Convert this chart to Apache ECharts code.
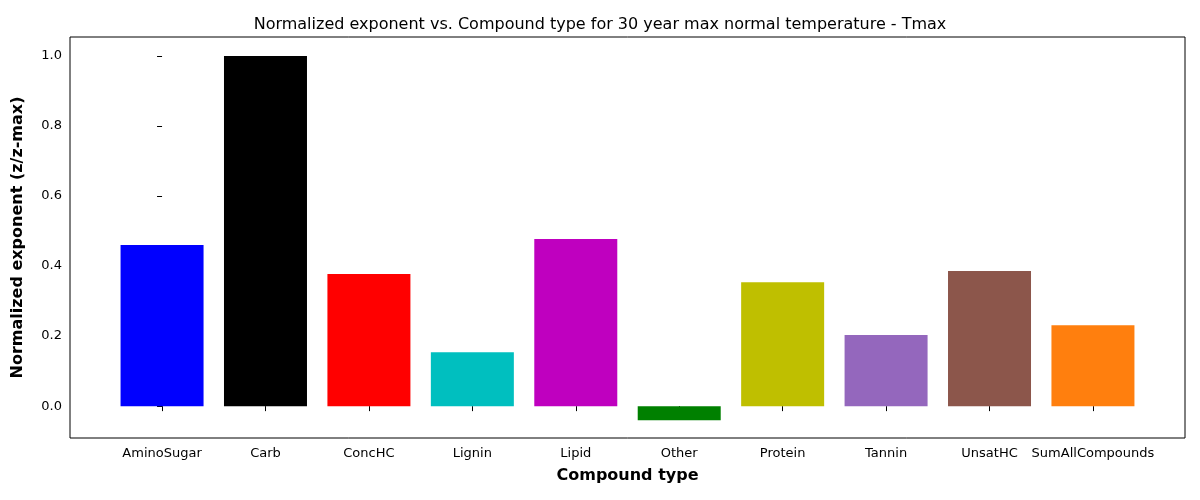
<!DOCTYPE html>
<html>
<head>
<meta charset="utf-8">
<script src="https://cdn.jsdelivr.net/npm/echarts@6/dist/echarts.min.js"></script>
<style>html,body{margin:0;padding:0;background:#fff}#chart{width:1200px;height:500px}</style>
</head>
<body>
<div id="chart"></div>
<script>
// Data
var categories = ['AminoSugar', 'Carb', 'ConcHC', 'Lignin', 'Lipid', 'Other', 'Protein', 'Tannin', 'UnsatHC', 'SumAllCompounds'];
var values = [0.46, 1.0, 0.377, 0.154, 0.477, -0.04, 0.354, 0.203, 0.386, 0.231];
var colors = ['#0000ff', '#000000', '#ff0000', '#00bfbf', '#bf00bf', '#008000', '#bfbf00', '#9467bd', '#8c564b', '#ff7f0e'];

var chart = echarts.init(document.getElementById('chart'));
var font = 'DejaVu Sans, sans-serif';

chart.setOption({
    animation: false,
    textStyle: { fontFamily: font },
    title: {
        text: 'Normalized exponent vs. Compound type for 30 year max normal temperature - Tmax',
        left: 'center', top: 12,
        textStyle: { fontFamily: font, fontSize: 16, fontWeight: 'normal', color: '#000' }
    },
    grid: {
        left: 70, right: 15, top: 37, bottom: 62,
        show: true, borderColor: '#000', borderWidth: 1, backgroundColor: 'transparent'
    },
    xAxis: {
        type: 'value', min: -0.89, max: 9.89, splitNumber: 10,
        name: 'Compound type', nameLocation: 'middle', nameGap: 30,
        nameTextStyle: { fontFamily: font, fontSize: 16, fontWeight: 'bold', color: '#000' },
        axisLine: { show: false },
        axisTick: { show: true, length: 5, lineStyle: { color: '#000' } },
        splitLine: { show: false },
        axisLabel: {
            showMinLabel: false, showMaxLabel: false, color: '#000', fontSize: 13, margin: 9,
            formatter: function (v) { return categories[Math.round(v)] || ''; }
        }
    },
    yAxis: {
        type: 'value', min: -0.091, max: 1.054,
        name: 'Normalized exponent (z/z-max)', nameLocation: 'middle', nameGap: 44,
        nameTextStyle: { fontFamily: font, fontSize: 16, fontWeight: 'bold', color: '#000' },
        axisLine: { show: false },
        axisTick: { show: true, length: 5, lineStyle: { color: '#000' } },
        splitLine: { show: false },
        axisLabel: {
            showMinLabel: false, showMaxLabel: false, color: '#000', fontSize: 13, margin: 8,
            formatter: function (v) { return v.toFixed(1); }
        }
    },
    series: [{
        type: 'bar',
        barWidth: 83,
        data: values.map(function (v, i) {
            return { value: [i, v], itemStyle: { color: colors[i] } };
        })
    }]
});
</script>
</body>
</html>
